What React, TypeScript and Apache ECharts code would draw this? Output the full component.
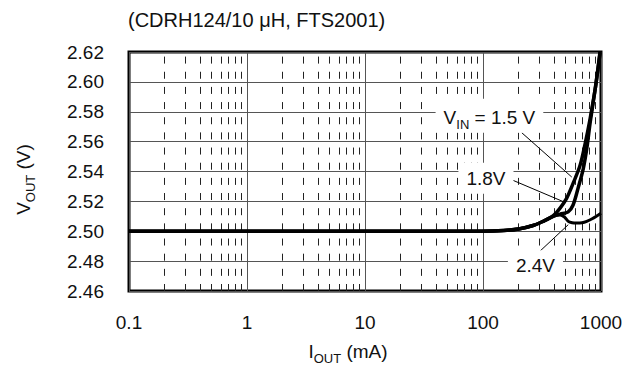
import React, { useEffect, useRef } from "react";
import * as echarts from "echarts";

const titleText = "(CDRH124/10 \u03bcH, FTS2001)";
const xTickValues = [0.1, 1, 10, 100, 1000];
const minorXValues = [
  0.2, 0.3, 0.4, 0.5, 0.6, 0.7, 0.8, 0.9,
  2, 3, 4, 5, 6, 7, 8, 9,
  20, 30, 40, 50, 60, 70, 80, 90,
  200, 300, 400, 500, 600, 700, 800, 900,
];

// V_IN = 1.5 V
const iout15 = [0.1, 1, 10, 60, 100, 150, 200, 270, 330, 394, 450, 511, 580, 664, 731, 807, 900, 980];
const vout15 = [2.5, 2.5, 2.5, 2.5, 2.5, 2.5005, 2.5015, 2.504, 2.507, 2.5105, 2.5155, 2.522, 2.532, 2.544, 2.558, 2.575, 2.597, 2.62];
// V_IN = 1.8 V
const iout18 = [0.1, 1, 10, 60, 100, 150, 200, 270, 330, 394, 450, 527, 580, 640, 708, 760, 810, 900, 985];
const vout18 = [2.5, 2.5, 2.5, 2.5, 2.5, 2.5005, 2.5015, 2.504, 2.507, 2.51, 2.5115, 2.513, 2.5176, 2.529, 2.542, 2.556, 2.573, 2.597, 2.62];
// V_IN = 2.4 V
const iout24 = [0.1, 1, 10, 60, 100, 150, 200, 270, 330, 394, 450, 490, 528, 570, 622, 690, 757, 850, 1000];
const vout24 = [2.5, 2.5, 2.5, 2.5, 2.5, 2.5005, 2.5015, 2.504, 2.507, 2.51, 2.5108, 2.5095, 2.5066, 2.5057, 2.5055, 2.5057, 2.5066, 2.5085, 2.512];

// annotation labels [iout, vout]
const labelVin15 = [114.5, 2.577];
const label18 = [107, 2.5352];
const label24 = [281, 2.4765];
// leader lines [[iout, vout], [iout, vout]]
const leader15 = [[212.8, 2.566], [565, 2.5363]];
const leader18 = [[179.5, 2.5341], [480, 2.5198]];
const leader24 = [[285, 2.4846], [528, 2.5044]];

const zip = (xs: number[], ys: number[]) => xs.map((x, i) => [x, ys[i]]);

export default function App() {
  const ref = useRef<HTMLDivElement>(null);
  useEffect(() => {
    if (!ref.current) return;
    const chart = echarts.init(ref.current, null, { renderer: "svg" });
    const font = "'Liberation Sans', Arial, sans-serif";
    const fs = 19;
    const ink = "#111111";
    const rich = {
      m: { fontFamily: font, fontSize: fs, color: ink, lineHeight: 22, verticalAlign: "bottom" },
      s: { fontFamily: font, fontSize: 13, color: ink, lineHeight: 22, verticalAlign: "bottom", padding: [0, 0, -4, 0] },
    };
    const labelBox = {
      show: true,
      position: [0, 0],
      align: "center",
      verticalAlign: "middle",
      color: ink,
      fontFamily: font,
      fontSize: fs,
      backgroundColor: "#fff",
      padding: [6, 8, 6, 8],
    };
    chart.setOption({
      animation: false,
      backgroundColor: "#fff",
      color: ["#000"],
      title: {
        text: titleText,
        left: 128,
        top: 10,
        padding: 0,
        textStyle: { fontFamily: font, fontSize: 20, fontWeight: "normal", color: ink },
      },
      grid: {
        left: 129,
        right: 26,
        top: 52,
        bottom: 76,
        show: true,
        borderColor: "#000",
        borderWidth: 3,
        backgroundColor: "transparent",
      },
      xAxis: {
        type: "log",
        logBase: 10,
        min: 0.1,
        max: 1000,
        axisLine: { show: false },
        axisTick: { show: false },
        splitLine: { show: true, lineStyle: { color: "#555", width: 1 } },
        axisLabel: {
          margin: 22,
          fontFamily: font,
          fontSize: fs,
          color: ink,
          formatter: (v: number) => {
            const n = Number(Number(v).toPrecision(6));
            return xTickValues.includes(n) ? String(n) : "";
          },
        },
        name: "{m|I}{s|OUT}{m| (mA)}",
        nameLocation: "middle",
        nameGap: 48,
        nameTextStyle: { color: ink, padding: [0, 34, 0, 0], rich },
      },
      yAxis: {
        type: "value",
        min: 2.46,
        max: 2.62,
        interval: 0.02,
        axisLine: { show: false },
        axisTick: { show: false },
        splitLine: { show: true, lineStyle: { color: "#555", width: 1 } },
        axisLabel: {
          margin: 25,
          fontFamily: font,
          fontSize: fs,
          color: ink,
          formatter: (v: number) => v.toFixed(2),
        },
        name: "{m|V}{s|OUT}{m| (V)}",
        nameLocation: "middle",
        nameGap: 96,
        nameRotate: 90,
        nameTextStyle: { color: ink, padding: [0, 16, 0, 0], rich },
      },
      series: [
        {
          name: "minor-grid",
          type: "line",
          data: [],
          silent: true,
          markLine: {
            silent: true,
            z: 1,
            symbol: ["none", "none"],
            label: { show: false },
            lineStyle: { color: "#222", width: 1, type: [7, 8.16] },
            data: minorXValues.map((v) => ({ xAxis: v })),
          },
        },
        {
          name: "VIN = 1.5 V",
          type: "line",
          z: 3,
          showSymbol: false,
          smooth: 0.3,
          lineStyle: { color: "#000", width: 3.5 },
          data: zip(iout15, vout15),
        },
        {
          name: "1.8V",
          type: "line",
          z: 3,
          showSymbol: false,
          smooth: 0.3,
          lineStyle: { color: "#000", width: 3.5 },
          data: zip(iout18, vout18),
        },
        {
          name: "2.4V",
          type: "line",
          z: 3,
          showSymbol: false,
          smooth: 0.3,
          lineStyle: { color: "#000", width: 3 },
          data: zip(iout24, vout24),
        },
        {
          name: "annotations",
          type: "line",
          data: [],
          silent: true,
          itemStyle: { color: "#000" },
          markLine: {
            silent: true,
            z: 4,
            symbol: ["none", "none"],
            label: { show: false },
            lineStyle: { color: "#000", width: 1, type: "solid" },
            data: [leader15, leader18, leader24].map((l) => [{ coord: l[0] }, { coord: l[1] }]),
          },
          markPoint: {
            silent: true,
            z: 5,
            symbol: "rect",
            symbolSize: 1,
            itemStyle: { color: "rgba(255,255,255,0)" },
            data: [
              {
                coord: labelVin15,
                label: { ...labelBox, formatter: "{m|V}{s|IN}{m| = 1.5 V}", rich },
              },
              { coord: label18, label: { ...labelBox, formatter: "1.8V" } },
              { coord: label24, label: { ...labelBox, formatter: "2.4V" } },
            ],
          },
        },
      ],
    });
    return () => chart.dispose();
  }, []);
  return (
    <div
      ref={ref}
      style={{ position: "fixed", left: 0, top: 0, width: 627, height: 370 }}
    />
  );
}
